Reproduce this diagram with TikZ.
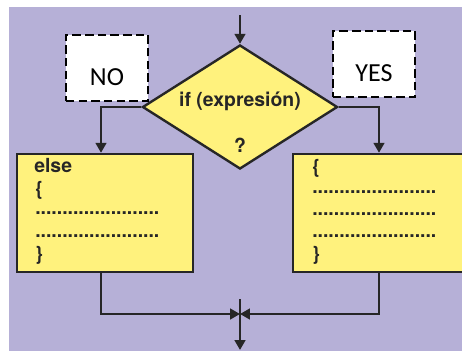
\documentclass[tikz,border=0pt]{standalone}
\usepackage{fontspec}
\setmainfont{TeX Gyre Heros}
\newfontfamily\tagfont{Carlito}
\usetikzlibrary{shapes.geometric, arrows.meta}
\definecolor{ifback}{RGB}{182,176,215}
\definecolor{ifyellow}{RGB}{255,242,125}
\definecolor{ifink}{RGB}{38,38,38}
\tikzset{
    flowline/.style={line width=1.7pt, draw=ifink},
    flowarrow/.style={flowline, -{Triangle[length=7pt, width=7.5pt]}},
    decision/.style={diamond, draw=ifink, line width=1.7pt, fill=ifyellow, inner sep=0pt, minimum width=4.875cm, minimum height=3.1cm},
    block/.style={rectangle, draw=ifink, line width=1.7pt, fill=ifyellow, inner sep=0pt, minimum height=2.95cm},
    code/.style={anchor=west, inner sep=0pt, text=ifink, font=\fontsize{13.8}{16}\selectfont\bfseries},
    tagbox/.style={rectangle, draw=black, fill=white, line width=1.8pt, dash pattern=on 6pt off 3pt, minimum width=2.05cm, minimum height=1.65cm},
    tagtext/.style={inner sep=0pt, font=\tagfont\fontsize{18.5}{20}\selectfont}
}
\begin{document}
\begin{tikzpicture}[x=0.025cm, y=-0.025cm]
    \clip (0,0) rectangle (462,351);
    \fill[white] (0,0) rectangle (462,351);
    \fill[ifback] (9,7) rectangle (462,351);

    % Condition
    \node[decision] (cond) at (240,107) {};
    \node[code, anchor=center] (condtext) at (240,101) {if (expresión)};
    \node[code, anchor=center] (condmark) at (240,145) {?};
    \coordinate (entry) at (240,15);
    \draw[flowarrow] (entry) -- (cond.north);

    % Else branch
    \node[block, minimum width=4.4cm] (elsebox) at (105,213) {};
    \node[code] (elseline1) at (34,166) {else};
    \node[code] (elseline2) at (35,190) {\{};
    \node[code] (elseline3) at (35,213) {.......................};
    \node[code] (elseline4) at (35,236) {.......................};
    \node[code] (elseline5) at (35,255) {\}};

    % Then branch
    \node[block, minimum width=4.3cm] (thenbox) at (379,213) {};
    \node[code] (thenline1) at (312,168) {\{};
    \node[code] (thenline2) at (312,192) {.......................};
    \node[code] (thenline3) at (312,214) {.......................};
    \node[code] (thenline4) at (312,236) {.......................};
    \node[code] (thenline5) at (312,255) {\}};

    \draw[flowarrow] (cond.west) -| ([xshift=-0.1cm]elsebox.north);
    \draw[flowarrow] (cond.east) -| (thenbox.north);

    % Join
    \coordinate (join) at (240,314);
    \coordinate (jointop) at (240,299);
    \coordinate (exit) at (240,350);
    \draw[flowarrow] ([xshift=-0.1cm]elsebox.south) |- (join);
    \draw[flowarrow] (thenbox.south) |- (join);
    \draw[flowarrow] (jointop) -- (exit);

    % Labels
    \node[tagbox] (nobox) at (107,68) {};
    \node[tagtext] (notext) at (107,77) {NO};
    \node[tagbox] (yesbox) at (374,64) {};
    \node[tagtext] (yestext) at (374,73) {YES};
\end{tikzpicture}
\end{document}
